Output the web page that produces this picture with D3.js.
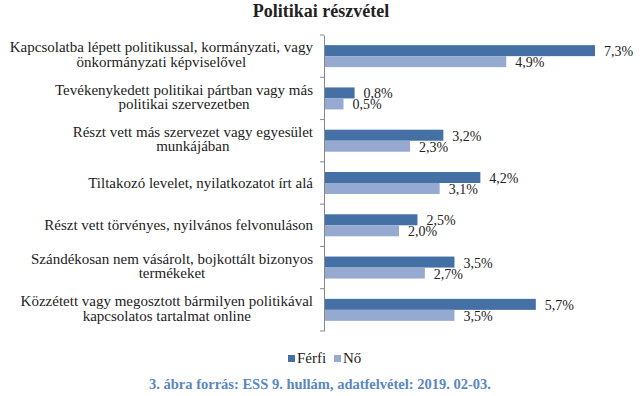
<!DOCTYPE html>
<html>
<head>
<meta charset="utf-8">
<script src="https://cdn.jsdelivr.net/npm/d3@7"></script>
<style>
  body { margin: 0; background: #fff; }
  svg text { font-family: "Liberation Serif", "DejaVu Serif", serif; fill: #222; }
</style>
</head>
<body>
<div id="chart"></div>
<script>
// data
var categories = [
  ["Kapcsolatba lépett politikussal, kormányzati, vagy", "önkormányzati képviselővel"],
  ["Tevékenykedett politikai pártban vagy más", "politikai szervezetben"],
  ["Részt vett más szervezet vagy egyesület", "munkájában"],
  ["Tiltakozó levelet, nyilatkozatot írt alá"],
  ["Részt vett törvényes, nyilvános felvonuláson"],
  ["Szándékosan nem vásárolt, bojkottált bizonyos", "termékeket"],
  ["Közzétett vagy megosztott bármilyen politikával", "kapcsolatos tartalmat online"]
];
var ferfi = [7.3, 0.8, 3.2, 4.2, 2.5, 3.5, 5.7];
var no = [4.9, 0.5, 2.3, 3.1, 2.0, 2.7, 3.5];
var seriesNames = ["Férfi", "Nő"];
var colors = ["#4570a6", "#95a9d1"];

var width = 640, height = 396;
var svg = d3.select("#chart").append("svg").attr("width", width).attr("height", height);

var x = d3.scaleLinear().domain([0, 7.3]).range([325, 595]);
var y = d3.scaleBand().domain(d3.range(categories.length)).range([35, 331]);
var sub = d3.scaleBand().domain([0, 1]).range([0, 22]);

// title
svg.append("text")
  .attr("x", 321).attr("y", 17)
  .attr("text-anchor", "middle")
  .style("font-size", "18px").style("font-weight", "bold")
  .text("Politikai részvétel");

// axis
var axis = svg.append("g").attr("transform", "translate(324,0)")
  .call(d3.axisLeft(y).tickSize(0).tickFormat(""));
axis.select(".domain").attr("stroke", "#888");
axis.selectAll(".tick").remove();
var bounds = y.domain().map(function(d){ return y(d); }).concat([y.range()[1]]);
axis.selectAll(".tk").data(bounds).enter().append("line")
  .attr("x1", -4).attr("x2", 0)
  .attr("y1", function(d){ return d; }).attr("y2", function(d){ return d; })
  .attr("stroke", "#888");

// category labels: block right-aligned, lines centred inside the block
var labelRight = 313, lineH = 14.5;
var lab = svg.selectAll(".cat").data(categories).enter().append("text")
  .attr("class", "cat")
  .attr("text-anchor", "middle")
  .style("font-size", "15px");
lab.each(function(lines, i) {
  var t = d3.select(this);
  var cy = y(i) + y.bandwidth() / 2;
  var start = lines.length > 1 ? cy - lineH / 2 + 3.5 : cy + 4.5;
  var spans = lines.map(function(l, j) {
    return t.append("tspan").attr("y", start + j * lineH).text(l);
  });
  var maxW = d3.max(spans, function(s){ return s.node().getComputedTextLength(); });
  spans.forEach(function(s){ s.attr("x", labelRight - maxW / 2); });
});

// bars
var groups = [ferfi, no];
groups.forEach(function(vals, s) {
  var off = y.bandwidth() / 2 - 11;
  svg.selectAll(".bar" + s).data(vals).enter().append("rect")
    .attr("x", x(0))
    .attr("y", function(d, i){ return y(i) + off + sub(s); })
    .attr("width", function(d){ return x(d) - x(0); })
    .attr("height", sub.bandwidth())
    .attr("fill", colors[s]);
  svg.selectAll(".val" + s).data(vals).enter().append("text")
    .attr("x", function(d){ return x(d) + 9; })
    .attr("y", function(d, i){ return y(i) + off + sub(s) + sub.bandwidth() / 2 + 5.5; })
    .style("font-size", "14px")
    .text(function(d){ return d.toFixed(1).replace(".", ",") + "%"; });
});

// legend
var lx = [288, 334];
seriesNames.forEach(function(n, s) {
  svg.append("rect").attr("x", lx[s]).attr("y", 355).attr("width", 7).attr("height", 7).attr("fill", colors[s]);
  svg.append("text").attr("x", lx[s] + 9).attr("y", 363).style("font-size", "15px").text(n);
});

// footer
svg.append("text")
  .attr("x", 320).attr("y", 389)
  .attr("text-anchor", "middle")
  .style("font-size", "14.5px").style("font-weight", "bold")
  .style("fill", "#5a87c0")
  .text("3. ábra forrás: ESS 9. hullám, adatfelvétel: 2019. 02-03.");
</script>
</body>
</html>
